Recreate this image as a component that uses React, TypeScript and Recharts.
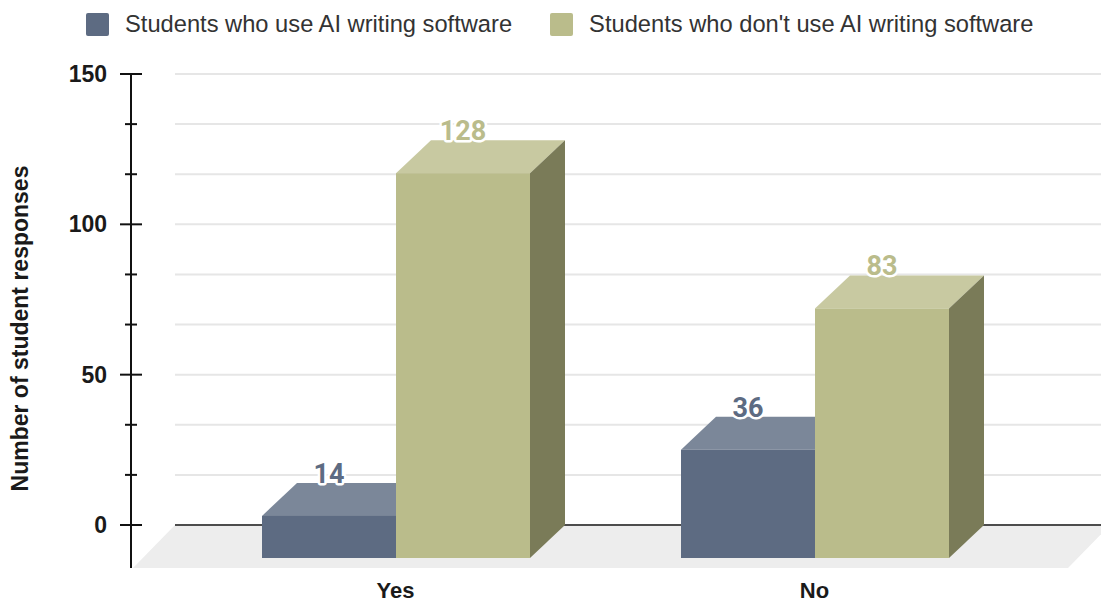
import { BarChart, Bar, XAxis, YAxis, CartesianGrid, Legend, LabelList } from "recharts";

const categories = ["Yes", "No"];
const useAI = [14, 36];
const noAI = [128, 83];
const yTicks = [0, 50 / 3, 100 / 3, 50, 200 / 3, 250 / 3, 100, 350 / 3, 400 / 3, 150];
const yLabels = [0, 50, 100, 150];
const seriesNames = ["Students who use AI writing software", "Students who don't use AI writing software"];

const data = categories.map((c, i) => ({ category: c, useAI: useAI[i], noAI: noAI[i] }));

const W = 1101;
const H = 601;
const X_AXIS_H = 76;
const PLOT_BOTTOM = H - X_AXIS_H;
// depth of the fake 3d boxes
const DX = 35;
const DY = 33;

const palette: Record<string, { front: string; top: string; side: string }> = {
  useAI: { front: "#5d6b82", top: "#7b8799", side: "#47536a" },
  noAI: { front: "#babc8b", top: "#c8c9a1", side: "#7a7b58" },
};

const AXIS_FONT = "'Liberation Sans', Arial, sans-serif";

function Box3D(props: any) {
  const { x, y, width: w, height: h, dataKey } = props;
  const c = palette[dataKey];
  if (w == null || h == null) return null;
  return (
    <g>
      <polygon
        points={`${x - DX},${y + DY} ${x},${y} ${x + w},${y} ${x + w - DX},${y + DY}`}
        fill={c.top}
      />
      <polygon
        points={`${x + w - DX},${y + DY} ${x + w},${y} ${x + w},${y + h} ${x + w - DX},${y + h + DY}`}
        fill={c.side}
      />
      <rect x={x - DX} y={y + DY} width={w} height={h} fill={c.front} />
    </g>
  );
}

function valueLabel(color: string) {
  return (props: any) => {
    const { x, y, width, value } = props;
    return (
      <text
        x={x + width / 2 - DX}
        y={y - 9}
        textAnchor="middle"
        dominantBaseline="central"
        fontFamily="Roboto, sans-serif"
        fontWeight={700}
        fontSize={27}
        fill={color}
        stroke="#fff"
        strokeWidth={5}
        strokeLinejoin="round"
        paintOrder="stroke"
      >
        {value}
      </text>
    );
  };
}

function GridLine(p: any) {
  const isZero = Math.abs(p.y1 - PLOT_BOTTOM) < 1;
  const left = p.x1 + 44;
  if (isZero) {
    return (
      <g key={p.key}>
        <polygon
          points={`${left},${p.y1} ${p.x2 + 9},${p.y1} ${p.x2 - 33},${p.y1 + 43} ${p.x1 + 2},${p.y1 + 43}`}
          fill="#ededed"
        />
        <line x1={left} y1={p.y1} x2={p.x2} y2={p.y2} stroke="#4d4d4d" strokeWidth={2} />
      </g>
    );
  }
  return <line key={p.key} x1={left} y1={p.y1} x2={p.x2} y2={p.y2} stroke="#e6e6e6" strokeWidth={2} />;
}

function YTick(props: any) {
  const { x, y, payload } = props;
  const v = payload.value;
  const major = yLabels.some((l) => Math.abs(l - v) < 0.01);
  return (
    <g>
      {v === 0 && <line x1={x} y1={y} x2={x} y2={y + 43} stroke="#111" strokeWidth={2} />}
      <line x1={major ? x - 11 : x - 6} y1={y} x2={major ? x + 11 : x + 6} y2={y} stroke="#111" strokeWidth={2} />
      {major && (
        <text x={x - 24} y={y} textAnchor="end" dominantBaseline="central" fontFamily={AXIS_FONT} fontWeight={700} fontSize={23} fill="#1a1a1a">
          {Math.round(v)}
        </text>
      )}
    </g>
  );
}

function XTick(props: any) {
  const { x, y, payload } = props;
  return (
    <text x={x - DX} y={y + 65} textAnchor="middle" dominantBaseline="central" fontFamily={AXIS_FONT} fontWeight={700} fontSize={22} fill="#1a1a1a">
      {payload.value}
    </text>
  );
}

function YTitle(props: any) {
  const vb = props.viewBox;
  const cx = vb.x + 20;
  const cy = vb.y + vb.height / 2 + 29;
  return (
    <text
      x={cx}
      y={cy}
      transform={`rotate(-90 ${cx} ${cy})`}
      textAnchor="middle"
      dominantBaseline="central"
      fontFamily={AXIS_FONT}
      fontWeight={700}
      fontSize={23}
      fill="#1a1a1a"
    >
      Number of student responses
    </text>
  );
}

function LegendContent() {
  const items = [
    { name: seriesNames[0], color: palette.useAI.front },
    { name: seriesNames[1], color: palette.noAI.front },
  ];
  return (
    <div style={{ display: "flex", alignItems: "center", height: 48, paddingLeft: 86, fontFamily: AXIS_FONT, fontSize: 23.7, color: "#333" }}>
      {items.map((it, i) => (
        <div key={it.name} style={{ display: "flex", alignItems: "center", marginRight: i === 0 ? 38 : 0 }}>
          <span style={{ width: 23, height: 23, background: it.color, borderRadius: 2, marginRight: 16, display: "inline-block" }} />
          <span>{it.name}</span>
        </div>
      ))}
    </div>
  );
}

export default function App() {
  return (
    <div style={{ position: "absolute", left: 0, top: 0, background: "#fff" }}>
      <BarChart width={W} height={H} data={data} margin={{ top: 26, right: 0, bottom: 0, left: 0 }} barGap={0} barSize={134}>
        <Legend verticalAlign="top" content={<LegendContent />} wrapperStyle={{ top: 0, left: 0, width: W, height: 48 }} />
        <CartesianGrid vertical={false} horizontal={GridLine as any} />
        <YAxis
          width={131}
          domain={[0, 150]}
          ticks={yTicks}
          interval={0}
          axisLine={{ stroke: "#111", strokeWidth: 2 }}
          tickLine={false}
          tickSize={0}
          tickMargin={0}
          tick={<YTick />}
          label={<YTitle />}
        />
        <XAxis
          dataKey="category"
          height={X_AXIS_H}
          padding={{ left: 90, right: 42 }}
          axisLine={false}
          tickLine={false}
          tickSize={0}
          tickMargin={0}
          tick={<XTick />}
        />
        <Bar dataKey="useAI" name={seriesNames[0]} fill={palette.useAI.front} shape={<Box3D dataKey="useAI" />} isAnimationActive={false}>
          <LabelList dataKey="useAI" content={valueLabel(palette.useAI.front)} />
        </Bar>
        <Bar dataKey="noAI" name={seriesNames[1]} fill={palette.noAI.front} shape={<Box3D dataKey="noAI" />} isAnimationActive={false}>
          <LabelList dataKey="noAI" content={valueLabel(palette.noAI.front)} />
        </Bar>
      </BarChart>
    </div>
  );
}
